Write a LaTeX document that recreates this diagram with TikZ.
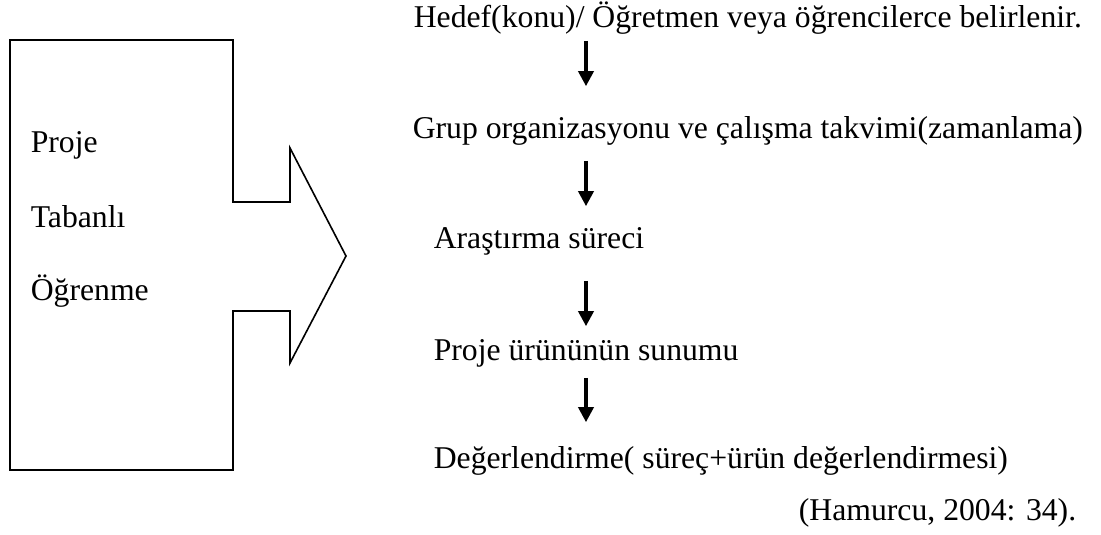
\documentclass[tikz,border=0pt]{standalone}
\usepackage{fontspec}
\setmainfont{Liberation Serif}
\usetikzlibrary{arrows.meta}
\tikzstyle{every path}=[line width=1.6pt]
\tikzstyle{stage}=[anchor=base west, inner sep=0pt, text height=21pt, text depth=7pt, font=\fontsize{31.7}{38}\selectfont]
\tikzstyle{flow}=[line width=3.5pt, -{Triangle[length=15pt,width=15pt]}]
\begin{document}
\begin{tikzpicture}[x=1pt, y=-1pt]
            \useasboundingbox (0,0) rectangle (1101,535);

            \draw (10,40) -- (233,40) -- (233,202) -- (290,202) -- (290,148)
                -- (346,256) -- (290,363) -- (290,311) -- (233,311)
                -- (233,470) -- (10,470) -- cycle;
            \node[stage] (proje) at (30,152) {Proje};
            \node[stage] (tabanli) at (30,227) {Tabanlı};
            \node[stage] (ogrenme) at (30,300) {Öğrenme};

            \node[stage] (hedef) at (413,28) {Hedef(konu)/ Öğretmen veya öğrencilerce belirlenir.};
            \node[stage] (grup) at (412,138) {Grup organizasyonu ve çalışma takvimi(zamanlama)};
            \node[stage] (arastirma) at (433,248) {Araştırma süreci};
            \node[stage] (sunum) at (433,360) {Proje ürününün sunumu};
            \node[stage] (deger) at (433,468) {Değerlendirme( süreç+ürün değerlendirmesi)};
            \node[stage, anchor=base east] (kaynak) at (1077,520) {(Hamurcu, 2004: 34).};

            \coordinate (ax) at (586,0);
            \draw[flow, shorten <=5pt, shorten >=30pt] (hedef.south -| ax) -- (grup.north -| ax);
            \draw[flow, shorten <=15pt, shorten >=20pt] (grup.south -| ax) -- (arastirma.north -| ax);
            \draw[flow, shorten <=25pt, shorten >=12pt] (arastirma.south -| ax) -- (sunum.north -| ax);
            \draw[flow, shorten <=10pt, shorten >=24pt] (sunum.south -| ax) -- (deger.north -| ax);
        \end{tikzpicture}
\end{document}
